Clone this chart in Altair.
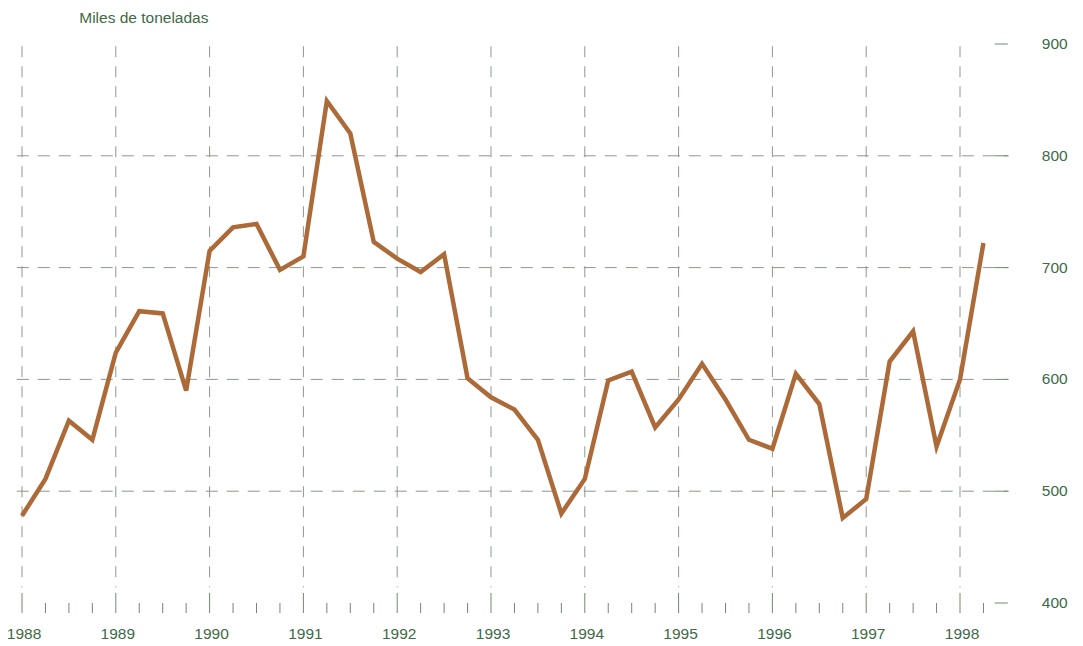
import altair as alt
import pandas as pd

# ---- data ----
years = list(range(1988, 1999))
quarter_values = [
    478, 511, 563, 546,   # 1988
    624, 661, 659, 590,   # 1989
    715, 736, 739, 698,   # 1990
    710, 849, 820, 723,   # 1991
    708, 696, 712, 601,   # 1992
    584, 573, 546, 480,   # 1993
    511, 599, 607, 557,   # 1994
    582, 614, 582, 546,   # 1995
    538, 605, 578, 476,   # 1996
    493, 616, 643, 540,   # 1997
    600, 722,             # 1998
]
y_ticks = [400, 500, 600, 700, 800, 900]
grid_levels = [500, 600, 700, 800]
title_text = "Miles de toneladas"

quarters = [1988 + i * 0.25 for i in range(len(quarter_values))]
minor_ticks = [y + q for y in years for q in (0.25, 0.5, 0.75) if y + q <= 1998.25]

line_df = pd.DataFrame({"t": quarters, "v": quarter_values})
year_df = pd.DataFrame({"year": years})
minor_df = pd.DataFrame({"q": minor_ticks})
ytick_df = pd.DataFrame({"tick": y_ticks})
grid_df = pd.DataFrame({"level": grid_levels})
title_df = pd.DataFrame({"title": [title_text]})

TEXT = "#3d6a47"
GRID = "#8c988c"
TICK = "#6f8a72"
LINE = "#ad6a39"
FONT = "Liberation Sans"

xs = alt.Scale(domain=[1988, 1998], range=[14, 952], nice=False, zero=False)
ys = alt.Scale(domain=[400, 900], range=[595, 36], nice=False, zero=False)

vgrid = alt.Chart(year_df).mark_rule(
    color=GRID, strokeWidth=1, strokeDash=[11, 9]
).encode(
    x=alt.X("year:Q", scale=xs, axis=None),
    y=alt.datum(898),
    y2=alt.datum(414),
)

hgrid = alt.Chart(grid_df).mark_rule(
    color=GRID, strokeWidth=1, strokeDash=[12, 9]
).encode(
    y=alt.Y("level:Q", scale=ys, axis=None),
    x=alt.datum(1987.72),
    x2=alt.datum(1998.52),
)

right_ticks = alt.Chart(ytick_df).mark_rule(color=TICK, strokeWidth=1).encode(
    y=alt.Y("tick:Q", scale=ys, axis=None),
    x=alt.datum(1998.37),
    x2=alt.datum(1998.51),
)

major_ticks = alt.Chart(year_df).mark_rule(color=TICK, strokeWidth=1).encode(
    x=alt.X("year:Q", scale=xs, axis=None),
    y=alt.datum(409),
    y2=alt.datum(391),
)

minor = alt.Chart(minor_df).mark_rule(color=TICK, strokeWidth=1).encode(
    x=alt.X("q:Q", scale=xs, axis=None),
    y=alt.datum(400),
    y2=alt.datum(391),
)

year_labels = alt.Chart(year_df).mark_text(
    font=FONT, fontSize=15.5, color=TEXT, align="center", baseline="middle", dx=2
).encode(
    x=alt.X("year:Q", scale=xs, axis=None),
    y=alt.datum(372.3),
    text=alt.Text("year:Q", format="d"),
)

value_labels = alt.Chart(ytick_df).mark_text(
    font=FONT, fontSize=15.5, color=TEXT, align="center", baseline="middle"
).encode(
    y=alt.Y("tick:Q", scale=ys, axis=None),
    x=alt.datum(1999.01),
    text=alt.Text("tick:Q", format="d"),
)

title = alt.Chart(title_df).mark_text(
    font=FONT, fontSize=15.5, color=TEXT, align="left", baseline="alphabetic"
).encode(
    x=alt.datum(1988.61),
    y=alt.datum(919.0),
    text="title:N",
)

line = alt.Chart(line_df).mark_line(
    color=LINE, strokeWidth=4.5, strokeJoin="miter"
).encode(
    x=alt.X("t:Q", scale=xs, axis=None),
    y=alt.Y("v:Q", scale=ys, axis=None),
)

chart = alt.layer(
    vgrid, hgrid, right_ticks, major_ticks, minor, year_labels, value_labels, title, line
).properties(
    width=1067,
    height=638,
    autosize=alt.AutoSizeParams(type="none"),
    padding=0,
    background="white",
).configure_view(stroke=None).configure_axis(disable=True)

chart.save("out.html", embed_options={"renderer": "svg", "actions": False})
